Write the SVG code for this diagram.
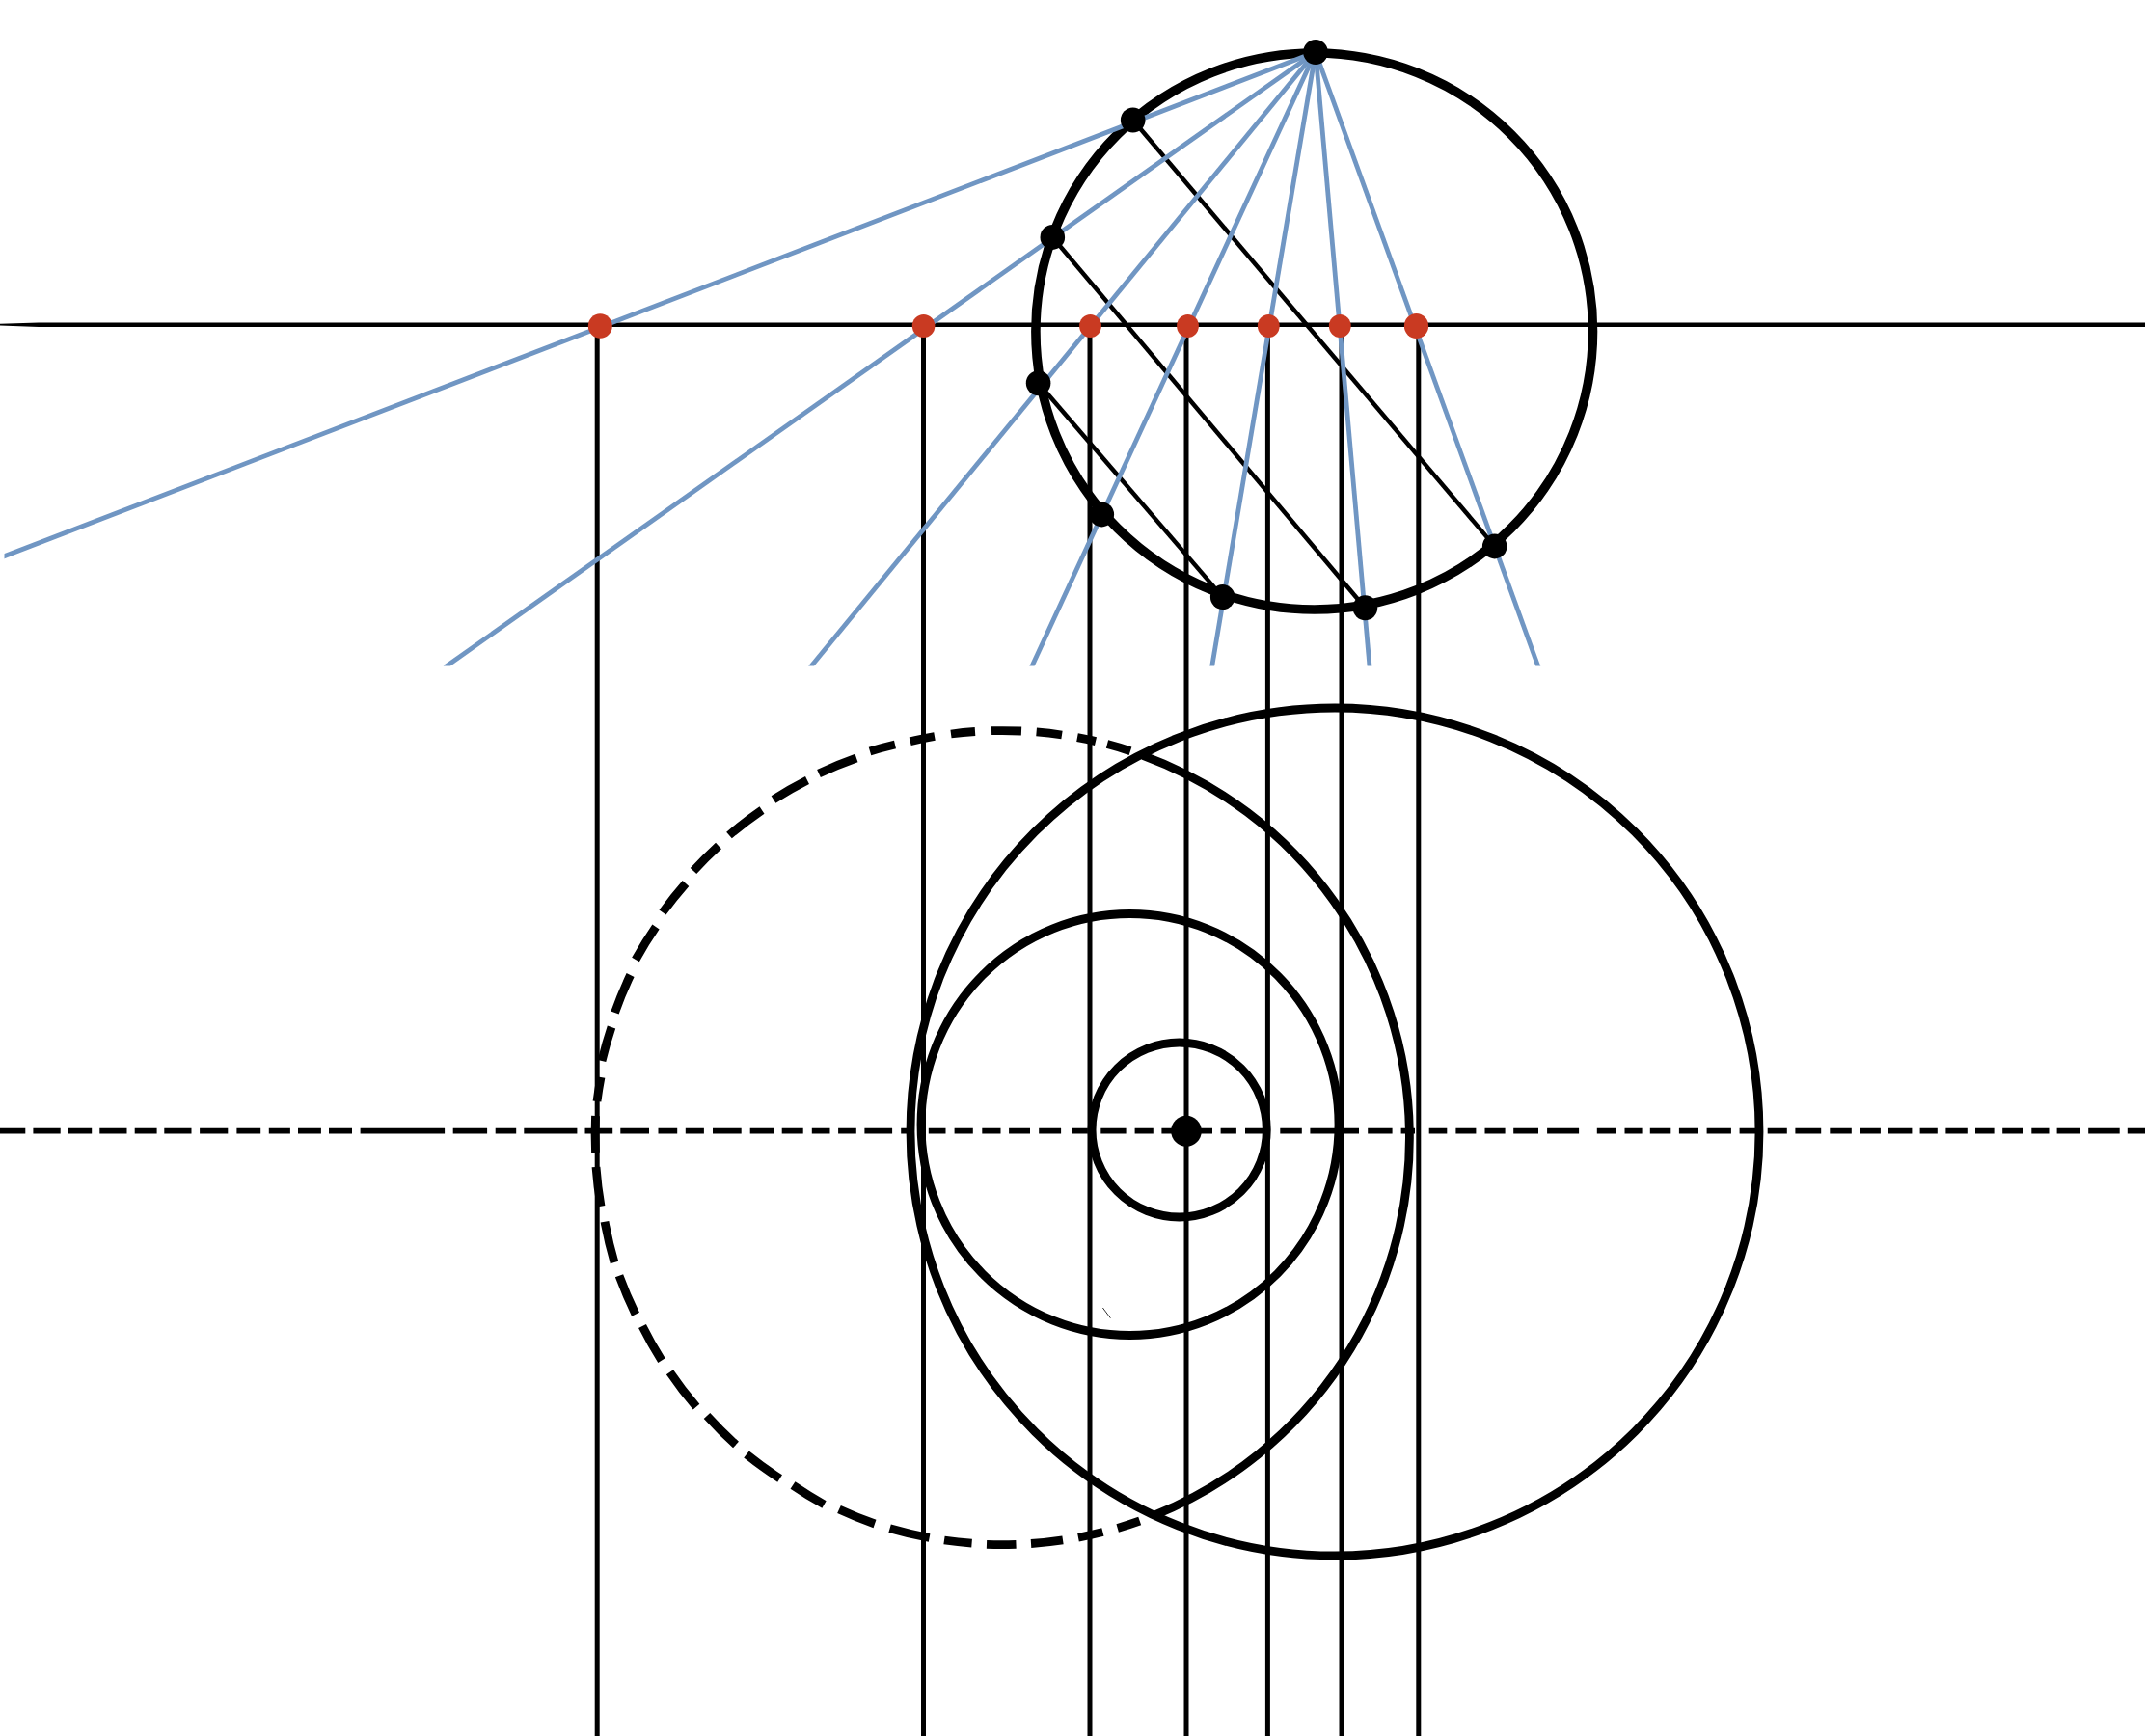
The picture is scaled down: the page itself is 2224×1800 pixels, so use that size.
<svg xmlns="http://www.w3.org/2000/svg" width="2224" height="1800" viewBox="0 0 2224 1800">
<defs>
<clipPath id="rayClip"><rect x="4.5" y="0" width="2219.5" height="690.5"/></clipPath>
<style>
.v{stroke:#000;stroke-width:5;fill:none}
.d{stroke:#000;stroke-width:4.5;fill:none}
.c{stroke:#000;stroke-width:8.8;fill:none}
.b{stroke:#7096c3;stroke-width:4.8;fill:none}
.r{fill:#c93a22}
.k{fill:#000}
</style>
</defs>
<rect width="2224" height="1800" fill="#fff"/>
<g id="axes">
<path id="horizon" d="M0 335.8L40 334.4H2224V339H40L0 337.6Z" fill="#000"/>
<path id="center-axis" stroke="#000" stroke-width="5.8" fill="none" d="M0 1172.7H26.3M34.4 1172.7H62.7M70.8 1172.7H95.2M103.3 1172.7H131.5M139.7 1172.7H162.6M170.3 1172.7H198.5M207.1 1172.7H236.3M245.4 1172.7H270.2M278.8 1172.7H300.9M309 1172.7H332.9M341 1172.7H365M373.6 1172.7H461.1M469.7 1172.7H505.1M513.7 1172.7H535.2M543.3 1172.7H598.4M606.5 1172.7H635.2M643.3 1172.7H673M682.5 1172.7H702.2M710.8 1172.7H729.9M739 1172.7H768.7M777.7 1172.7H802.1M810.7 1172.7H832.7M841.8 1172.7H860.5M869.1 1172.7H887.8M896.4 1172.7H925.1M934.2 1172.7H941M962.8 1172.7H980.5M989.6 1172.7H1008.8M1018.3 1172.7H1037.5M1046.1 1172.7H1068M1077.2 1172.7H1100.1M1111.1 1172.7H1127.9M1141.3 1172.7H1167.6M1176.6 1172.7H1195.8M1204.4 1172.7H1257M1265.6 1172.7H1281.9M1291 1172.7H1309.6M1327.3 1172.7H1349.8M1358.4 1172.7H1409M1418.2 1172.7H1443.6M1452.6 1172.7H1467M1481.7 1172.7H1500.3M1509.4 1172.7H1530.4M1539.5 1172.7H1560.6M1569.2 1172.7H1595M1604.1 1172.7H1637.1M1655.8 1172.7H1675.8M1684.5 1172.7H1702.6M1710.8 1172.7H1732.3M1740.9 1172.7H1761M1769.6 1172.7H1794.9M1803.6 1172.7H1822M1832.7 1172.7H1852.8M1861.4 1172.7H1888.2M1897.3 1172.7H1919.8M1928.4 1172.7H1949.9M1958 1172.7H1982.4M1990.6 1172.7H2008.8M2017.4 1172.7H2039.8M2048 1172.7H2067.6M2076.2 1172.7H2097.7M2106.3 1172.7H2124.5M2132.6 1172.7H2157M2165.2 1172.7H2197.7M2205.8 1172.7H2224"/>
</g>
<g id="connectors">
<g id="verticals">
<path class="v" d="M619.2 338V1800"/>
<path class="v" d="M957.5 338V1800"/>
<path class="v" d="M1130 338V1800"/>
<path class="v" d="M1230 338V1800"/>
<path class="v" d="M1314.4 338V1800"/>
<path class="v" d="M1391 338V1800"/>
<path class="v" d="M1470.8 338V1800"/>
</g>
<g id="chords">
<path class="d" d="M1174.7 124.5L1549.7 566.4"/>
<path class="d" d="M1091.3 245.9L1415.4 630.3"/>
<path class="d" d="M1076.6 397.2L1267.7 619.1"/>
</g>
</g>
<g id="circles">
<ellipse id="circle-large" class="c" cx="1384" cy="1173.5" rx="440" ry="439.5"/>
<ellipse id="circle-middle" class="c" cx="1171.5" cy="1166" rx="216.5" ry="218.5"/>
<ellipse id="circle-small" class="c" cx="1222.7" cy="1171.5" rx="90.6" ry="90.5"/>
<path id="circle-offset-solid" class="c" d="M1185 783.3A421.5 422 0 0 1 1198 1570.7"/>
<g id="circle-offset-dashed" class="c">
<path d="M1181.7 1577A421.5 422 0 0 1 1158.7 1584.4"/>
<path d="M1143.4 1588.6A421.5 422 0 0 1 1118 1594.2"/>
<path d="M1102 1596.9A421.5 422 0 0 1 1069 1600.5"/>
<path d="M1053.5 1601.3A421.5 422 0 0 1 1023 1601.3"/>
<path d="M1007.6 1600.2A421.5 422 0 0 1 979 1597"/>
<path d="M963.6 1594.5A421.5 422 0 0 1 922.6 1584.8"/>
<path d="M907 1580A421.5 422 0 0 1 870 1565"/>
<path d="M854.5 1560A421.5 422 0 0 1 822 1540"/>
<path d="M808.6 1533A421.5 422 0 0 1 774 1508"/>
<path d="M763 1498A421.5 422 0 0 1 733 1468"/>
<path d="M722 1458.7A421.5 422 0 0 1 694.5 1422.7"/>
<path d="M686 1410.7A421.5 422 0 0 1 666 1375"/>
<path d="M659 1362.7A421.5 422 0 0 1 642 1322.7"/>
<path d="M637 1309A421.5 422 0 0 1 627 1266.7"/>
<path d="M623 1250.7A421.5 422 0 0 1 618 1210"/>
<path d="M617.5 1195A421.5 422 0 0 1 617.5 1157"/>
<path d="M619 1142A421.5 422 0 0 1 623 1117"/>
<path d="M624 1100A421.5 422 0 0 1 634 1065"/>
<path d="M637.5 1050A421.5 422 0 0 1 653.6 1011"/>
<path d="M659 995A421.5 422 0 0 1 680 961"/>
<path d="M687 946A421.5 422 0 0 1 711 916"/>
<path d="M719 903A421.5 422 0 0 1 745 877"/>
<path d="M756 866A421.5 422 0 0 1 790 840"/>
<path d="M802 829A421.5 422 0 0 1 837 809"/>
<path d="M849 802A421.5 422 0 0 1 888 786"/>
<path d="M902 779A421.5 422 0 0 1 928 772"/>
<path d="M943.7 768.7A421.5 422 0 0 1 969 763.5"/>
<path d="M986 761A421.5 422 0 0 1 1011 758.5"/>
<path d="M1028 757.7A421.5 422 0 0 1 1059 758"/>
<path d="M1074.6 758.9A421.5 422 0 0 1 1101 762"/>
<path d="M1117 764.6A421.5 422 0 0 1 1136 768.6"/>
<path d="M1148 771.6A421.5 422 0 0 1 1172 778.7"/>
</g>
<ellipse id="circle-top" cx="1362.7" cy="343.5" rx="288.8" ry="288.5" stroke="#000" stroke-width="9.6" fill="none"/>
</g>
<g id="rays" clip-path="url(#rayClip)">
<path class="b" d="M1364 54L-4 580"/>
<path class="b" d="M1364 54L461 692"/>
<path class="b" d="M1364 54L840 692"/>
<path class="b" d="M1364 54L1069.4 692"/>
<path class="b" d="M1364 54L1256.5 692"/>
<path class="b" d="M1364 54L1420.1 692"/>
<path class="b" d="M1364 54L1595.2 692"/>
</g>
<path id="speck" d="M1143.4 1356L1151.4 1366.7" stroke="#333" stroke-width="1" fill="none"/>
<g id="red-points">
<ellipse id="r1" class="r" cx="622.3" cy="338" rx="12.5" ry="12.7"/>
<ellipse id="r2" class="r" cx="957.6" cy="338" rx="11.8" ry="12"/>
<ellipse id="r3" class="r" cx="1130.5" cy="338" rx="11.4" ry="12"/>
<ellipse id="r4" class="r" cx="1231.5" cy="338" rx="11.4" ry="12"/>
<ellipse id="r5" class="r" cx="1315.3" cy="338" rx="11.4" ry="12"/>
<ellipse id="r6" class="r" cx="1389.3" cy="338" rx="11.4" ry="12"/>
<ellipse id="r7" class="r" cx="1468.5" cy="338" rx="12.6" ry="13"/>
</g>
<g id="black-points">
<ellipse id="p0" class="k" cx="1364" cy="54" rx="12.8" ry="13"/>
<ellipse id="p1" class="k" cx="1174.7" cy="124.5" rx="12.8" ry="13"/>
<ellipse id="p2" class="k" cx="1091.3" cy="245.9" rx="12.8" ry="13"/>
<ellipse id="p3" class="k" cx="1076.6" cy="397.2" rx="12.8" ry="13"/>
<ellipse id="p4" class="k" cx="1142.3" cy="533.4" rx="12.8" ry="13"/>
<ellipse id="p5" class="k" cx="1267.7" cy="619.1" rx="12.8" ry="13"/>
<ellipse id="p6" class="k" cx="1415.4" cy="630.3" rx="12.8" ry="13"/>
<ellipse id="p7" class="k" cx="1549.7" cy="566.4" rx="12.8" ry="13"/>
<ellipse id="center" class="k" cx="1230" cy="1172.7" rx="15.8" ry="16"/>
</g>
</svg>
